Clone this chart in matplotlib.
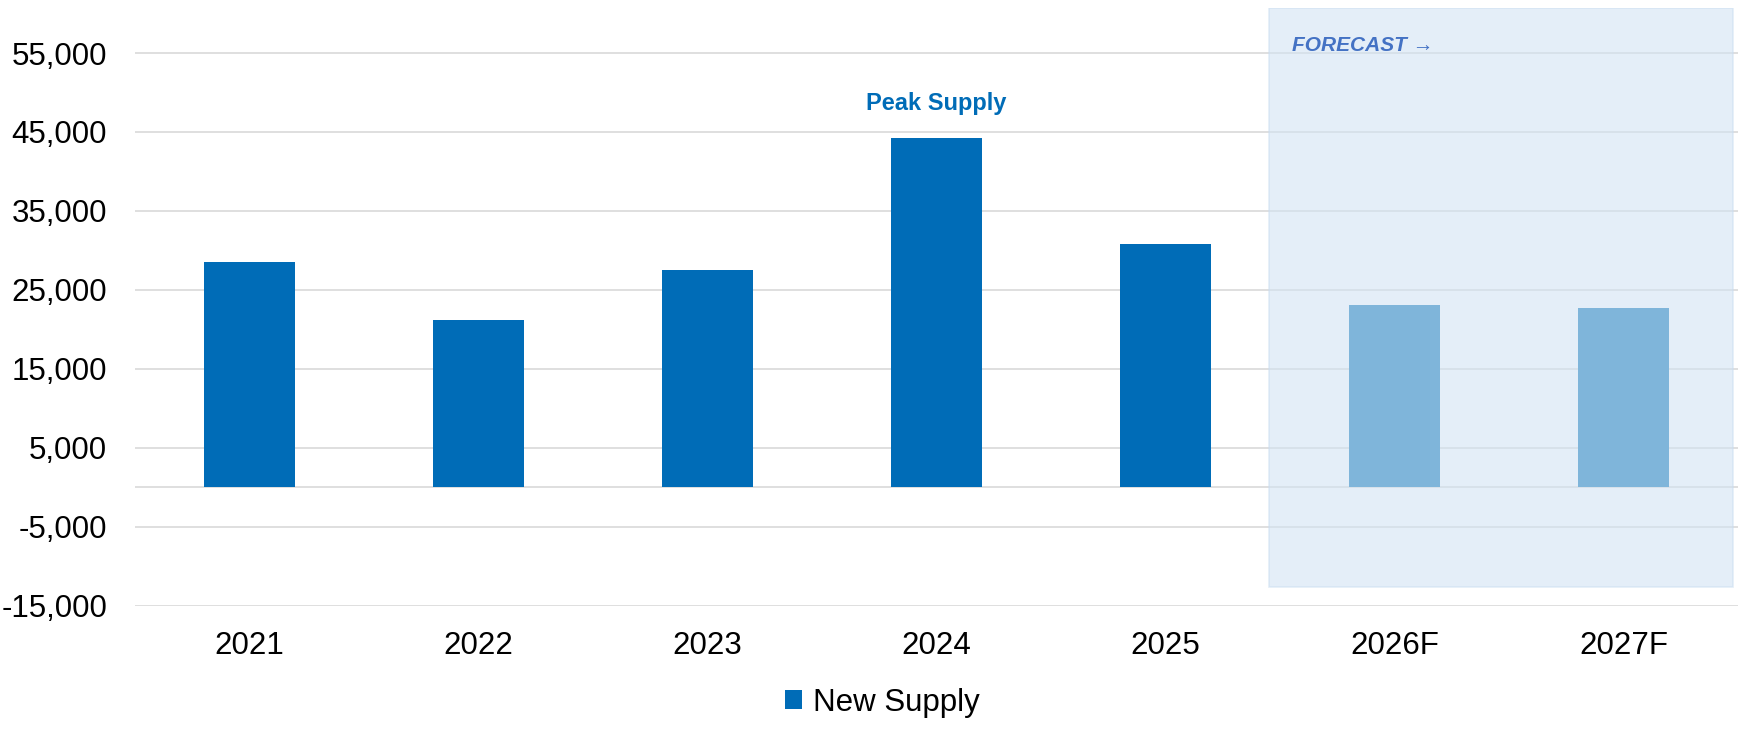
import matplotlib
matplotlib.use("Agg")
import matplotlib.pyplot as plt
from matplotlib.patches import Rectangle, Patch
import numpy as np

plt.rcParams['font.family'] = ['Liberation Sans', 'DejaVu Sans']

years = ['2021', '2022', '2023', '2024', '2025', '2026F', '2027F']
supply = [28500, 21200, 27500, 44200, 30800, 23100, 22700]
forecast = [False, False, False, False, False, True, True]
yticks = [-15000, -5000, 5000, 15000, 25000, 35000, 45000, 55000]

actual_color = '#006CB7'
fc_color = '#7FB5DA'
grid_color = '#D9D9D9'

fig = plt.figure(figsize=(17.65, 7.43), dpi=100)
ax = fig.add_axes([0.0765, 0.1848, 0.9082, 0.8044])

x = np.arange(len(years))
colors = [fc_color if f else actual_color for f in forecast]
ax.bar(x, supply, width=0.40, color=colors, zorder=3)

ax.set_xlim(-0.5, len(years) - 0.5)
ax.set_ylim(-15000, 60700)
ax.set_yticks(yticks)
ax.set_yticklabels(['{:,}'.format(v) for v in yticks])
ax.set_xticks(x)
ax.set_xticklabels(years)
ax.tick_params(axis='both', length=0, labelsize=22.5, colors='black')
ax.tick_params(axis='y', pad=20)
ax.tick_params(axis='x', pad=18)

ax.set_axisbelow(True)
ax.grid(axis='y', color=grid_color, linewidth=1.2)
ax.axhline(0, color=grid_color, linewidth=1.2, zorder=0.6)
for s in ax.spines.values():
    s.set_visible(False)

# forecast shaded region
first_fc = forecast.index(True)
box = Rectangle((first_fc - 0.548, -12600), len(years) - first_fc + 0.026, 60700 + 12600,
                facecolor=(210/255, 227/255, 243/255, 0.58),
                edgecolor=(200/255, 220/255, 240/255, 0.5), linewidth=1.2, zorder=2)
ax.add_patch(box)
ax.text(first_fc - 0.448, 56000, 'FORECAST \u2192', color='#4472C4', fontsize=15,
        fontweight='bold', fontstyle='italic', ha='left', va='center', zorder=4)

# peak label
peak = int(np.argmax(supply))
ax.annotate('Peak Supply', xy=(x[peak], supply[peak]), xytext=(0, 25),
            textcoords='offset points', ha='center', va='center',
            color=actual_color, fontsize=17, fontweight='bold')

handles = [Patch(facecolor=actual_color, label='New Supply')]
fig.legend(handles=handles, loc='center', bbox_to_anchor=(0.5, 0.054), frameon=False,
           fontsize=22.5, handlelength=0.55, handleheight=0.55, handletextpad=0.35)

fig.savefig('out.png', dpi=100)
